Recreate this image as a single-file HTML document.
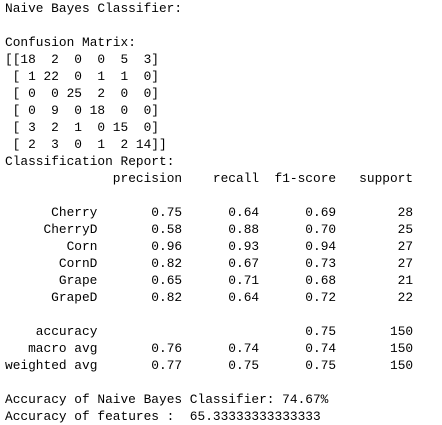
<!DOCTYPE html>
<html><head><meta charset="utf-8"><style>
html,body{margin:0;padding:0;background:#fff;width:442px;height:425px;overflow:hidden}
svg{display:block}
text{font-family:"Liberation Mono","DejaVu Sans Mono",monospace;font-size:12.8px;fill:#000}
</style></head><body>
<svg id="out" width="442" height="425"></svg>
<script>
const lines = [
"Naive Bayes Classifier:",
"",
"Confusion Matrix:",
"[[18  2  0  0  5  3]",
" [ 1 22  0  1  1  0]",
" [ 0  0 25  2  0  0]",
" [ 0  9  0 18  0  0]",
" [ 3  2  1  0 15  0]",
" [ 2  3  0  1  2 14]]",
"Classification Report:",
"              precision    recall  f1-score   support",
"",
"      Cherry       0.75      0.64      0.69        28",
"     CherryD       0.58      0.88      0.70        25",
"        Corn       0.96      0.93      0.94        27",
"       CornD       0.82      0.67      0.73        27",
"       Grape       0.65      0.71      0.68        21",
"      GrapeD       0.82      0.64      0.72        22",
"",
"    accuracy                           0.75       150",
"   macro avg       0.76      0.74      0.74       150",
"weighted avg       0.77      0.75      0.75       150",
"",
"Accuracy of Naive Bayes Classifier: 74.67%",
"Accuracy of features :  65.33333333333333"
];
const svg = document.getElementById('out');
const NS = 'http://www.w3.org/2000/svg';
const CW = 7.7;
lines.forEach((ln, r) => {
  const re = /\S+/g;
  let m;
  while ((m = re.exec(ln)) !== null) {
    const t = document.createElementNS(NS, 'text');
    
    
    t.setAttribute('x', 5 + m.index * CW);
    t.setAttribute('y', 12 + r * 17);
    t.setAttribute('textLength', m[0].length * CW);
    t.setAttribute('lengthAdjust', 'spacingAndGlyphs');
    t.textContent = m[0];
    svg.appendChild(t);
  }
});
</script>
</body></html>
